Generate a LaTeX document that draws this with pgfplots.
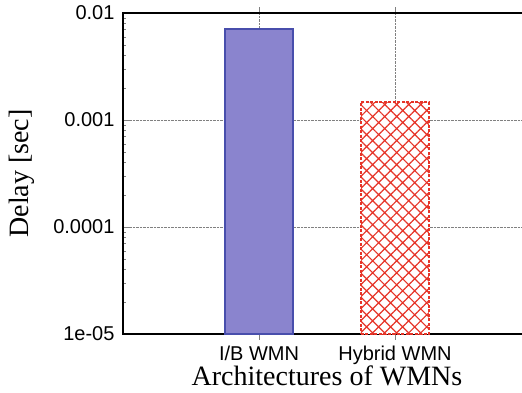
\documentclass[border=0pt]{standalone}
\usepackage{fontspec}
\setmainfont{Liberation Serif}
\newfontfamily\sansf{Liberation Sans}
\usepackage{pgfplots}
\pgfplotsset{compat=1.18}
\usetikzlibrary{patterns.meta}
\definecolor{ibfill}{RGB}{138,132,206}
\definecolor{ibedge}{RGB}{72,78,172}
\definecolor{hyred}{RGB}{230,52,40}
\begin{document}
\begin{tikzpicture}
\path[use as bounding box] (-123pt,-59pt) rectangle (399pt,334pt);
\begin{axis}[
  at={(0,0)}, anchor=south west,
  scale only axis, width=408pt, height=321pt,
  ymode=log, log origin=infty,
  xmin=0, xmax=3, ymin=1e-5, ymax=1e-2,
  xtick={1,2}, xticklabels={I/B WMN,Hybrid WMN},
  ytick={1e-5,1e-4,1e-3,1e-2},
  yticklabels={1e-05,0.0001,0.001,0.01},
  tick label style={font=\sansf\fontsize{20}{20}\selectfont},
  /pgf/number format/assume math mode=true,
  xtick pos=both, ytick pos=left,
  tick align=inside,
  major tick length=6pt, minor tick length=3.5pt,
  axis line style={line width=1.2pt},
  grid=major,
  major grid style={densely dotted, gray, line width=0.6pt},
  ylabel={Delay [sec]},
  xlabel={Architectures of WMNs},
  label style={font=\fontsize{28}{28}\selectfont},
  ylabel style={at={(axis description cs:-0.2475,0.5)}, anchor=center},
  xlabel style={at={(axis description cs:0.5,0)}, anchor=center, yshift=-42pt},
  xticklabel style={yshift=-2pt},
  yticklabel style={xshift=-5pt},
  ybar, bar width=68pt,
]
\addplot[fill=ibfill, draw=ibedge, line width=1.3pt, bar shift=0pt] coordinates {(1,0.00709)};
\addplot[fill=white, draw=none, bar shift=0pt,
  postaction={pattern={Hatch[angle=45,distance=8.5pt,line width=1.2pt]}, pattern color=hyred}] coordinates {(2,0.00147)};
\addplot[fill=none, draw=hyred, dash pattern=on 3pt off 1.5pt, line width=1.3pt, bar shift=0pt] coordinates {(2,0.00147)};
\end{axis}
\end{tikzpicture}
\end{document}
